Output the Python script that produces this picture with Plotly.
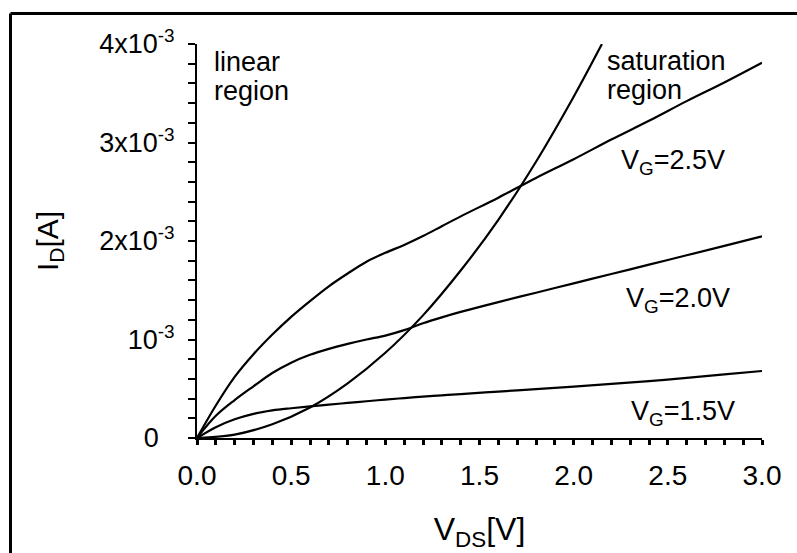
import plotly.graph_objects as go

# Output characteristics of a MOSFET: drain current vs drain-source voltage
vds = [0, 0.1, 0.2, 0.3, 0.4, 0.5, 0.6, 0.7, 0.8, 0.9, 1.0, 1.1, 1.2, 1.3, 1.4,
       1.6, 1.8, 2.0, 2.2, 2.4, 2.6, 2.8, 3.0]

# drain current in mA for each gate voltage
id_vg25_ma = [0, 0.33, 0.62, 0.85, 1.05, 1.23, 1.39, 1.54, 1.67, 1.79, 1.88, 1.96,
              2.05, 2.15, 2.25, 2.44, 2.64, 2.83, 3.03, 3.22, 3.42, 3.61, 3.81]
id_vg20_ma = [0, 0.225, 0.385, 0.525, 0.66, 0.765, 0.845, 0.905, 0.955, 1.0, 1.04, 1.095,
              1.165, 1.225, 1.28, 1.38, 1.475, 1.57, 1.665, 1.76, 1.855, 1.95, 2.047]
id_vg15_ma = [0, 0.11, 0.19, 0.245, 0.28, 0.302, 0.321, 0.339, 0.356, 0.373, 0.39, 0.405,
              0.42, 0.433, 0.446, 0.471, 0.496, 0.521, 0.549, 0.578, 0.61, 0.645, 0.68]

# boundary between linear and saturation regions (V_DS = V_GS - V_T)
vds_sat = [0, 0.2, 0.4, 0.6, 0.8, 1.0, 1.2, 1.4, 1.6, 1.8, 2.0, 2.15]
id_sat_ma = [0, 0.035, 0.14, 0.31, 0.555, 0.865, 1.245, 1.70, 2.215, 2.805, 3.465, 4.0]

x_tick_vals = [0.0, 0.5, 1.0, 1.5, 2.0, 2.5, 3.0]
x_tick_labels = ["0.0", "0.5", "1.0", "1.5", "2.0", "2.5", "3.0"]
x_minor_vals = [i / 10 for i in range(31)]

y_tick_vals = [0, 1e-3, 2e-3, 3e-3, 4e-3]
y_tick_labels = ["0<sup>\u00a0\u00a0\u00a0</sup>", "10<sup>-3</sup>", "2x10<sup>-3</sup>",
                 "3x10<sup>-3</sup>", "4x10<sup>-3</sup>"]
y_minor_vals = [i * 0.2e-3 for i in range(21)]

FONT = "Liberation Sans, Arial, sans-serif"
W, H = 797, 553
ML, MR, MT, MB = 197, 35, 44, 115

fig = go.Figure()
for xs, ys in [(vds, id_vg25_ma), (vds, id_vg20_ma), (vds, id_vg15_ma), (vds_sat, id_sat_ma)]:
    fig.add_trace(go.Scatter(
        x=xs, y=[v * 1e-3 for v in ys], mode="lines",
        line=dict(color="black", width=2.2, shape="spline", smoothing=1.0),
        hoverinfo="skip", showlegend=False,
    ))

def px_x(p):
    return (p - ML) / (W - ML - MR)

def px_y(p):
    return (H - MB - p) / (H - MT - MB)

# partial frame (left and top edges)
fx, fy = px_x(10.5), px_y(13.5)
fig.add_shape(type="line", xref="paper", yref="paper", x0=fx, x1=fx, y0=px_y(600), y1=fy,
              line=dict(color="black", width=3))
fig.add_shape(type="line", xref="paper", yref="paper", x0=fx, x1=px_x(850), y0=fy, y1=fy,
              line=dict(color="black", width=3))

def label(text, x_px, y_px, size=27):
    fig.add_annotation(text=text, xref="paper", yref="paper", x=px_x(x_px), y=px_y(y_px),
                       xanchor="left", yanchor="middle", showarrow=False,
                       font=dict(family=FONT, size=size, color="black"))

label("linear", 212, 62)
label("region", 212, 91)
label("saturation", 605, 61)
label("region", 605, 90)
label("V<sub>G</sub>=2.5V", 619, 162, 27)
label("V<sub>G</sub>=2.0V", 624, 300, 27)
label("V<sub>G</sub>=1.5V", 629, 413, 27)

fig.update_layout(
    width=W, height=H, autosize=False,
    margin=dict(l=ML, r=MR, t=MT, b=MB),
    paper_bgcolor="white", plot_bgcolor="white",
    font=dict(family=FONT, color="black", size=27),
    showlegend=False,
)
fig.update_xaxes(
    range=[0, 3.0], tickmode="array", tickvals=x_tick_vals, ticktext=x_tick_labels,
    ticks="outside", ticklen=5, tickwidth=1.5, tickcolor="black",
    showline=True, linecolor="black", linewidth=2, showgrid=False, zeroline=False,
    tickfont=dict(family=FONT, size=28, color="black"), ticklabelstandoff=6,
    minor=dict(tickmode="array", tickvals=x_minor_vals, ticks="outside", ticklen=5,
               tickwidth=2.5, tickcolor="black", showgrid=False),
    title=dict(text="V<sub>DS</sub>[V]", font=dict(family=FONT, size=32, color="black"), standoff=28),
)
fig.update_yaxes(
    range=[0, 4e-3], tickmode="array", tickvals=y_tick_vals, ticktext=y_tick_labels,
    ticks="outside", ticklen=7, tickwidth=1.5, tickcolor="black",
    showline=True, linecolor="black", linewidth=2, showgrid=False, zeroline=False,
    tickfont=dict(family=FONT, size=27, color="black"), ticklabelstandoff=8,
    minor=dict(tickmode="array", tickvals=y_minor_vals, ticks="outside", ticklen=7,
               tickwidth=1.5, tickcolor="black", showgrid=False),
    title=dict(text="I<sub>D</sub>[A]", font=dict(family=FONT, size=30, color="black"), standoff=32),
)

fig.write_html("out.html")
